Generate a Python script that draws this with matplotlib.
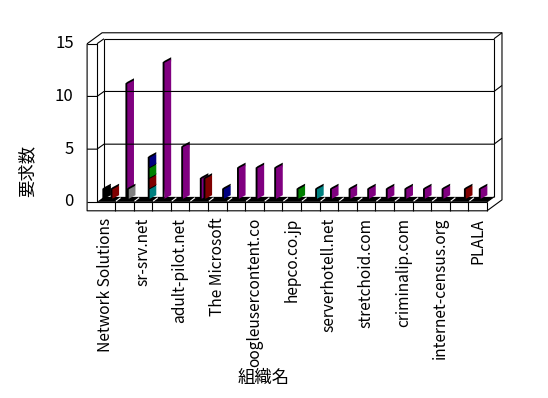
import numpy as np
import matplotlib
matplotlib.use('Agg')
import matplotlib.pyplot as plt

# データ
labels = ['Network Solutions', '', 'sr-srv.net', '', 'adult-pilot.net', '',
          'The Microsoft', '', 'oogleusercontent.co', '', 'hepco.co.jp', '',
          'serverhotell.net', '', 'stretchoid.com', '', 'criminalip.com', '',
          'internet-census.org', '', 'PLALA']
black  = [1, 0, 0, 0, 0, 0, 0, 0, 0, 0, 0, 0, 0, 0, 0, 0, 0, 0, 0, 0, 0]
purple = [0, 11, 0, 13, 5, 2, 0, 3, 3, 3, 0, 0, 1, 1, 1, 1, 1, 1, 1, 0, 1]
gray   = [0, 1, 0, 0, 0, 0, 0, 0, 0, 0, 0, 0, 0, 0, 0, 0, 0, 0, 0, 0, 0]
teal   = [0, 0, 1, 0, 0, 0, 0, 0, 0, 0, 0, 1, 0, 0, 0, 0, 0, 0, 0, 0, 0]
red    = [1, 0, 1, 0, 0, 2, 0, 0, 0, 0, 0, 0, 0, 0, 0, 0, 0, 0, 0, 1, 0]
green  = [0, 0, 1, 0, 0, 0, 0, 0, 0, 0, 1, 0, 0, 0, 0, 0, 0, 0, 0, 0, 0]
navy   = [0, 0, 1, 0, 0, 0, 1, 0, 0, 0, 0, 0, 0, 0, 0, 0, 0, 0, 0, 0, 0]
yticks = [0, 5, 10, 15]

plt.rcParams['font.family'] = ['Noto Sans CJK JP', 'DejaVu Sans']

n = len(labels)
x = np.arange(1, n + 1)
top = 15
lw = 0.8

# 奥行き
d1 = (0.376, 0.472)   # 奥の壁まで
d2 = (0.806, 1.04)    # 外枠
bx = (0.19, 0.24)     # 棒の位置
right = n + 0.5
bottom = -0.85

fig = plt.figure(figsize=(5.48, 3.98), dpi=100)
ax = fig.add_axes([0, 0, 1, 1])
ax.set_xlim(-4.683, 24.78)
ax.set_ylim(-18.61, 19.15)
ax.axis('off')

def line(xs, ys, c='black', w=lw):
    ax.plot(xs, ys, color=c, lw=w, solid_capstyle='butt')

# 外枠
line([0, 0, right, right + d2[0], right + d2[0], d2[0], 0],
     [top, bottom, bottom, bottom + d2[1], top + d2[1], top + d2[1], top])
line([0, 0.532, 0.532], [top, top, 0])
line([0.532, 0.532 + d1[0]], [top, top + d1[1]])
line([0.532 + d1[0], 0.532 + d1[0]], [d1[1], top + d1[1]])
line([0.532 + d1[0], right + d1[0]], [top + d1[1], top + d1[1]])
line([right + d1[0], right + d1[0]], [d1[1], top + d1[1]])
line([right + d1[0], right + d2[0]], [top + d1[1], top + d2[1]])

# 目盛線
for v in yticks[1:-1]:
    line([0, 0.532, 0.532 + d1[0], right + d1[0], right + d2[0]],
         [v, v, v + d1[1], v + d1[1], v + d2[1]])
for v in yticks:
    ax.text(-0.72, v, str(v), ha='right', va='center', fontsize=12)

# 床
ax.fill([0.532, right, right + d1[0], 0.532 + d1[0]],
        [0, 0, d1[1], d1[1]], color='black', lw=0)
line([0, right], [0, 0])
line([right, right + d1[0]], [0, d1[1]])
line([right, right], [bottom, 0])
for b in x[:-1] + 0.5:
    line([b, b], [bottom, 0])
    line([b + 0.05, b + 0.3], [0.06, 0.4], c='white')

# 棒
wf, ws, rise = 0.1, 0.36, 0.34

def bar3d(xl, b, h, color):
    if h <= 0:
        return
    b0 = b + bx[1]
    ax.fill([xl, xl + wf, xl + wf + ws, xl + wf + ws, xl + wf, xl],
            [b0, b0, b0 + h + rise, b0 + h + rise + 0.14, b0 + h + 0.14, b0 + h],
            color='black', lw=0)
    ax.fill([xl + wf, xl + wf + ws, xl + wf + ws, xl + wf],
            [b0 + 0.05, b0 + rise + 0.05, b0 + h + rise - 0.05, b0 + h - 0.05],
            color=color, lw=0)

stack = [(teal, '#008080'), (red, '#800000'), (green, '#008000'), (navy, '#000080')]
for i in range(n):
    bar3d(x[i] - 0.18, 0, black[i], '#000000')
    bar3d(x[i] + 0.06, 0, purple[i], '#800080')
    bar3d(x[i] + 0.14, 0, gray[i], '#808080')
    base = 0
    for vals, c in stack:
        bar3d(x[i] + 0.26, base, vals[i], c)
        base += vals[i]

for i in range(n):
    if labels[i]:
        ax.text(x[i], -1.5, labels[i], rotation=90, ha='center', va='top',
                fontsize=11.2)

ax.text(-3.18, 2.9, '要求数', rotation=90, ha='center', va='center', fontsize=12.5)
ax.text(9.51, -16.75, '組織名', ha='center', va='center', fontsize=12.5)

fig.savefig('out.png', dpi=100)
